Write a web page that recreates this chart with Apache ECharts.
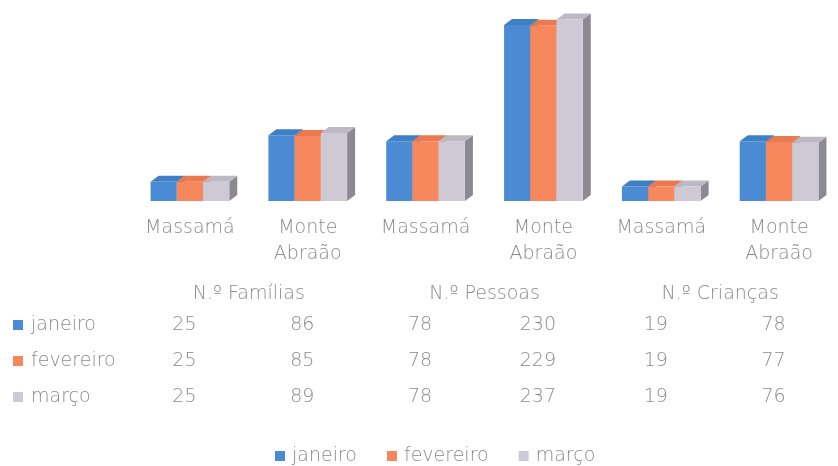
<!DOCTYPE html>
<html>
<head>
<meta charset="utf-8">
<script src="https://cdn.jsdelivr.net/npm/echarts@6/dist/echarts.min.js"></script>
<style>
html,body{margin:0;padding:0;background:#fff;}
#c{width:838px;height:466px;}
</style>
</head>
<body>
<div id="c"></div>
<script>
const categories = ['Massamá', 'Monte\nAbraão', 'Massamá', 'Monte\nAbraão', 'Massamá', 'Monte\nAbraão'];
const groups = ['N.º Famílias', 'N.º Pessoas', 'N.º Crianças'];
const seriesNames = ['janeiro', 'fevereiro', 'março'];
const janeiro = [25, 86, 78, 230, 19, 78];
const fevereiro = [25, 85, 78, 229, 19, 77];
const marco = [25, 89, 78, 237, 19, 76];
const seriesValues = [janeiro, fevereiro, marco];

const front = ['#4a8bd3', '#f7875c', '#cdcad6'];
const topC = ['#3f7fc4', '#ec7a50', '#bcb9c5'];
const sideC = ['#3a6ea6', '#cf6842', '#8d8994'];
const textColor = '#8a8a8a';
const FONT = 'DejaVu Sans';
const FW = 200;

const chart = echarts.init(document.getElementById('c'), null, {renderer: 'canvas'});

function makeRender(si) {
  return function (params, api) {
    const idx = api.value(0);
    const val = api.value(1);
    const base = api.coord([idx, 0]);
    const top = api.coord([idx, val]);
    const band = api.size([1, 0])[0];
    const bw = band * 0.2226;
    const x0 = base[0] - bw * 1.5 + si * bw;
    const x1 = x0 + bw;
    const y0 = top[1];
    const y1 = base[1];
    const dx = 8, dy = 6;
    return {
      type: 'group',
      children: [
        {type: 'polygon', shape: {points: [[x1, y0], [x1 + dx, y0 - dy], [x1 + dx, y1 - dy], [x1, y1]]}, style: {fill: sideC[si]}},
        {type: 'polygon', shape: {points: [[x0, y0], [x0 + dx, y0 - dy], [x1 + dx, y0 - dy], [x1, y0]]}, style: {fill: topC[si]}},
        {type: 'rect', shape: {x: x0, y: y0, width: bw, height: y1 - y0}, style: {fill: front[si]}}
      ]
    };
  };
}

function rowAxis(values, margin) {
  return {
    type: 'category', gridIndex: 0, position: 'bottom',
    data: values.map(String),
    axisLine: {show: false}, axisTick: {show: false}, splitLine: {show: false},
    axisLabel: {interval: 0, margin: margin, color: textColor, fontFamily: FONT, fontWeight: FW, fontSize: 19, lineHeight: 22, padding: [0, 11, 0, 0]}
  };
}

const option = {
  backgroundColor: '#ffffff',
  animation: false,
  grid: {left: 131, width: 728, top: 2, height: 199, containLabel: false},
  legend: [
    {
      orient: 'vertical', left: 13, top: 314, padding: 0, itemGap: 14,
      itemWidth: 10, itemHeight: 10, icon: 'rect',
      data: seriesNames,
      textStyle: {color: textColor, fontFamily: FONT, fontWeight: FW, fontSize: 19, lineHeight: 22, padding: [0, 0, 0, 3]}
    },
    {
      orient: 'horizontal', left: 275, top: 445, padding: 0, itemGap: 30,
      itemWidth: 10, itemHeight: 10, icon: 'rect',
      data: seriesNames,
      textStyle: {color: textColor, fontFamily: FONT, fontWeight: FW, fontSize: 19, lineHeight: 22, padding: [0, 0, 0, 2]}
    }
  ],
  xAxis: [
    {
      type: 'category', gridIndex: 0, position: 'bottom', data: categories,
      axisLine: {show: false}, axisTick: {show: false}, splitLine: {show: false},
      axisLabel: {interval: 0, margin: 14, color: textColor, fontFamily: FONT, fontWeight: FW, fontSize: 19, lineHeight: 26}
    },
    {
      type: 'category', gridIndex: 0, position: 'bottom', data: groups,
      axisLine: {show: false}, axisTick: {show: false}, splitLine: {show: false},
      axisLabel: {interval: 0, margin: 82, color: textColor, fontFamily: FONT, fontWeight: FW, fontSize: 19, lineHeight: 22}
    },
    rowAxis(janeiro, 113),
    rowAxis(fevereiro, 149),
    rowAxis(marco, 185)
  ],
  yAxis: {type: 'value', min: 0, max: 260, show: false, splitLine: {show: false}},
  series: seriesNames.map((name, si) => ({
    type: 'custom', name: name, xAxisIndex: 0, yAxisIndex: 0,
    coordinateSystem: 'cartesian2d',
    itemStyle: {color: front[si]},
    renderItem: makeRender(si),
    encode: {x: 0, y: 1},
    data: seriesValues[si].map((v, i) => [i, v]),
    clip: false
  }))
};
chart.setOption(option);
</script>
</body>
</html>
